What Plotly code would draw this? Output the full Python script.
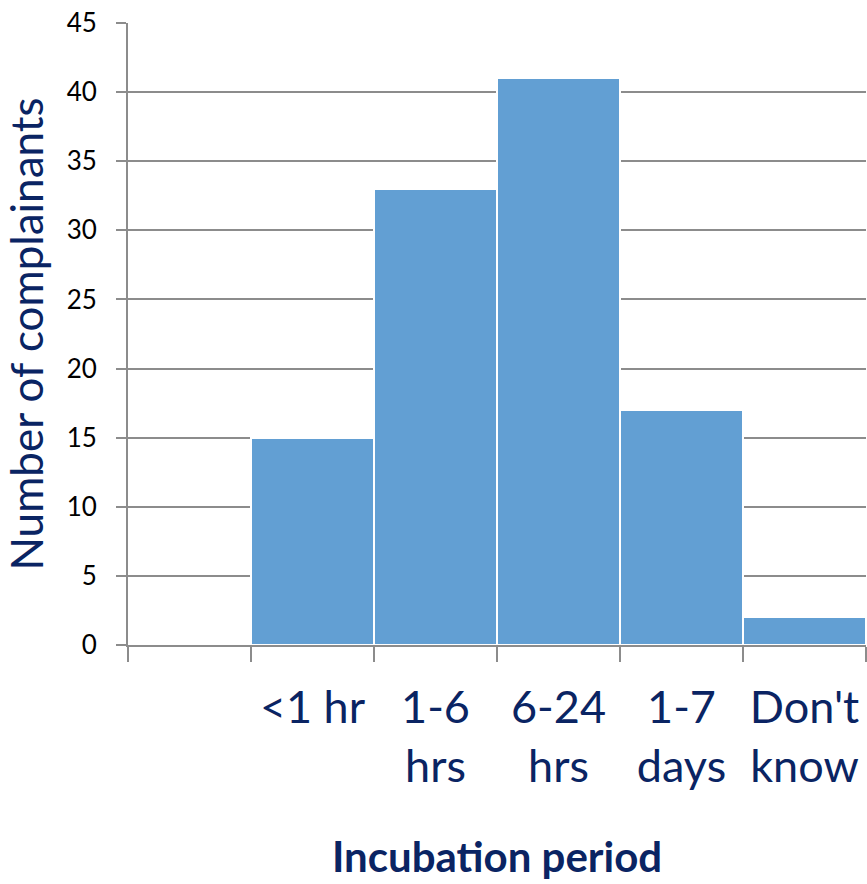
import plotly.graph_objects as go

categories = [" ", "<1 hr", "1-6<br>hrs", "6-24<br>hrs", "1-7<br>days", "Don't<br>know"]
complainants = [None, 15, 33, 41, 17, 2]
y_ticks = [0, 5, 10, 15, 20, 25, 30, 35, 40, 45]

navy = "#0A2463"
grey = "#8c8c8c"
font_family = "Lato, 'Open Sans', sans-serif"

fig = go.Figure(
    go.Bar(
        x=categories,
        y=complainants,
        marker=dict(color="#629FD3", line=dict(color="white", width=2)),
        hoverinfo="skip",
    )
)

fig.update_layout(
    width=867,
    height=884,
    margin=dict(l=128, r=1, t=23, b=239),
    paper_bgcolor="white",
    plot_bgcolor="white",
    bargap=0,
    showlegend=False,
    font=dict(family=font_family),
)

fig.update_xaxes(
    type="category",
    categoryorder="array",
    categoryarray=categories,
    range=[-0.5, 5.5],
    tickson="boundaries",
    ticks="outside",
    ticklen=15,
    tickwidth=2,
    tickcolor=grey,
    showline=True,
    linecolor=grey,
    linewidth=2,
    showgrid=False,
    tickfont=dict(size=45, color=navy, family=font_family),
    ticklabelstandoff=22,
    title=dict(
        text="<b>Incubation period</b>",
        font=dict(size=42, color=navy, family=font_family),
        standoff=52,
    ),
)

fig.update_yaxes(
    range=[0, 45],
    tickvals=y_ticks,
    ticks="outside",
    ticklen=10,
    tickwidth=2,
    tickcolor=grey,
    showline=True,
    linecolor=grey,
    linewidth=2,
    showgrid=True,
    gridcolor=grey,
    gridwidth=2,
    zeroline=False,
    tickfont=dict(size=26, color="black", family=font_family),
    ticklabelstandoff=14,
    title=dict(
        text="Number of complainants",
        font=dict(size=44, color=navy, family=font_family),
        standoff=12,
    ),
)

fig.write_html("out.html")
